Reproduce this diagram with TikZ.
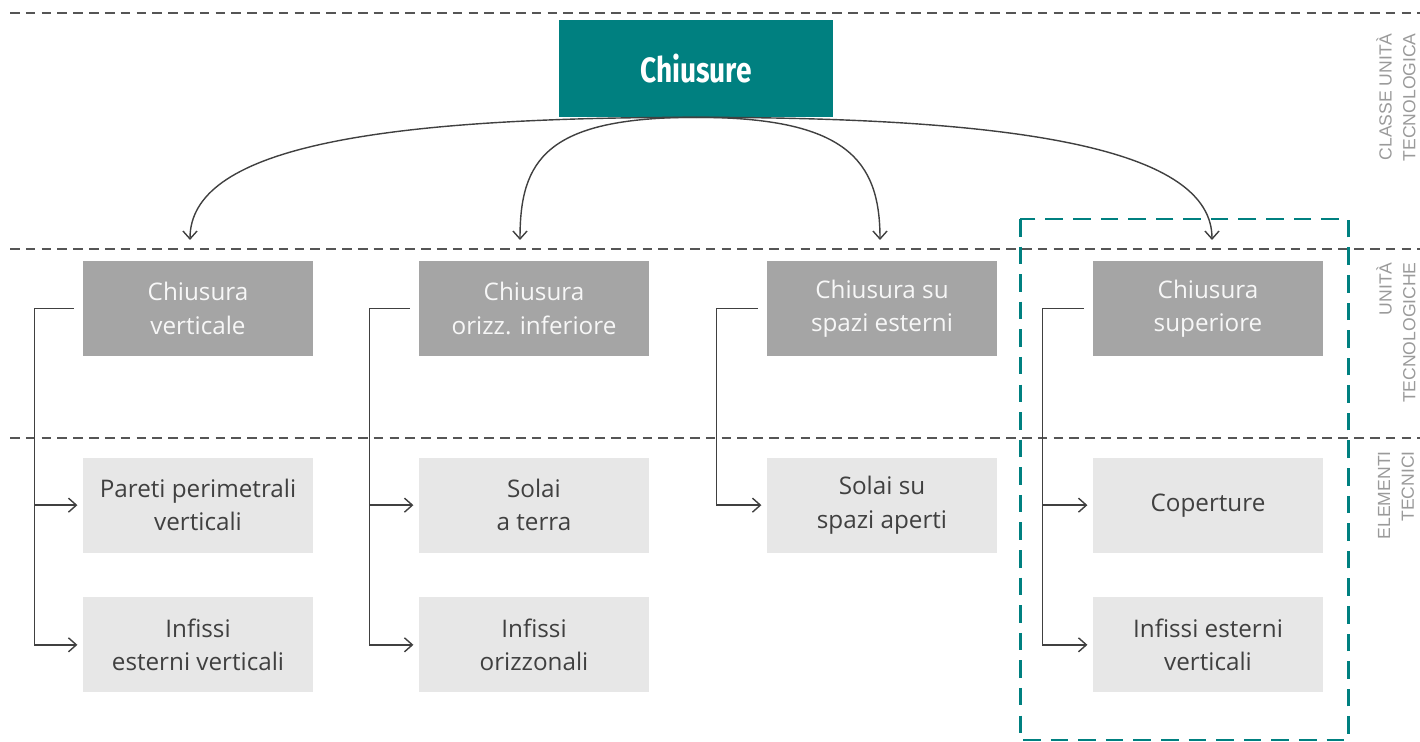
\documentclass[tikz,border=0pt]{standalone}
\usepackage{fontspec}
\setmainfont{Open Sans}
\newfontfamily\titlefont[FakeStretch=0.8]{Fira Sans}
\newfontfamily\sidefont{Liberation Sans}
\usetikzlibrary{arrows.meta,positioning}

\definecolor{tealmain}{HTML}{008080}
\definecolor{unitgray}{HTML}{A5A5A5}
\definecolor{elemgray}{HTML}{E7E7E7}
\definecolor{linegray}{HTML}{404040}
\definecolor{dashgray}{HTML}{555555}
\definecolor{sidegray}{HTML}{9A9A9A}

\tikzset{
  unit/.style={fill=unitgray, text=white!94!gray, minimum width=4.6cm, minimum height=1.9cm,
    inner sep=0pt, align=center, font=\fontsize{13.8}{19}\selectfont},
  elem/.style={unit, fill=elemgray, text=linegray},
  conn/.style={draw=linegray, line width=0.8pt, -{Straight Barb[length=4.5pt,width=8pt]}},
  levelline/.style={draw=dashgray, line width=1pt, dash pattern=on 5.5pt off 3.5pt},
  sidelabel/.style={rotate=90, anchor=east, align=right, text=sidegray,
    font=\sidefont\fontsize{10}{13.6}\selectfont, inner sep=0pt}
}

\begin{document}
\begin{tikzpicture}[x=0.02cm, y=0.02cm]
\useasboundingbox (0,0) rectangle (1420,-742);

% livelli
\draw[levelline] (10,-13) -- (1420,-13);
\draw[levelline] (10,-249) -- (1420,-249);
\draw[levelline] (10,-438) -- (1420,-438);

\node[sidelabel] (lclasse) at (1396,-33) {CLASSE UNITÀ\\TECNOLOGICA};
\node[sidelabel] (lunita) at (1396,-262) {UNITÀ\\TECNOLOGICHE};
\node[sidelabel] (lelem) at (1396,-451) {ELEMENTI\\TECNICI};

% classe
\node[fill=tealmain, text=white, minimum width=5.48cm, minimum height=1.94cm, inner sep=0pt,
  font=\titlefont\bfseries\fontsize{20}{24}\selectfont] (ch) at (696,-68.5) {Chiusure};

% unita tecnologiche
\node[unit] (cv) at (198,-308.5) {Chiusura\\verticale};
\node[unit] (co) at (534,-308.5) {Chiusura\\orizz. inferiore};
\node[unit] (ce) at (882,-308.5) {Chiusura su\\spazi esterni};
\node[unit] (cs) at (1208,-308.5) {Chiusura\\superiore};

% elementi tecnici
\node[elem, below=2.02cm of cv] (pv) {Pareti perimetrali\\verticali};
\node[elem, below=0.88cm of pv] (iv) {Infissi\\esterni verticali};
\node[elem, below=2.02cm of co] (st) {Solai\\a terra};
\node[elem, below=0.88cm of st] (io) {Infissi\\orizzonali};
\node[elem, below=2.02cm of ce] (sa) {Solai su\\spazi aperti};
\node[elem, below=2.02cm of cs] (cp) {Coperture};
\node[elem, below=0.88cm of cp] (ie) {Infissi esterni\\verticali};

% frecce dalla classe
\coordinate (t1) at (190,-240);
\coordinate (t2) at (520,-240);
\coordinate (t3) at (880,-240);
\coordinate (t4) at (1212,-240);
\draw[conn] (ch.south) .. controls +(-330,0) and +(0,90) .. (t1);
\draw[conn] (ch.south) .. controls +(-150,0) and +(0,80) .. (t2);
\draw[conn] (ch.south) .. controls +(150,0) and +(0,80) .. (t3);
\draw[conn] (ch.south) .. controls +(330,0) and +(0,90) .. (t4);

% collegamenti
\draw[conn, shorten <=5pt, shorten >=3pt] (cv.west) -- ++(-48,0) |- (pv.west);
\draw[conn, shorten <=5pt, shorten >=3pt] (cv.west) -- ++(-48,0) |- (iv.west);
\draw[conn, shorten <=5pt, shorten >=3pt] (co.west) -- ++(-49,0) |- (st.west);
\draw[conn, shorten <=5pt, shorten >=3pt] (co.west) -- ++(-49,0) |- (io.west);
\draw[conn, shorten <=5pt, shorten >=3pt] (ce.west) -- ++(-50,0) |- (sa.west);
\draw[conn, shorten <=5pt, shorten >=3pt] (cs.west) -- ++(-50,0) |- (cp.west);
\draw[conn, shorten <=5pt, shorten >=3pt] (cs.west) -- ++(-50,0) |- (ie.west);

% gruppo evidenziato
\draw[tealmain, line width=1.7pt, dash pattern=on 10pt off 5.7pt] (1020,-219) rectangle (1348,-740);
\end{tikzpicture}
\end{document}
